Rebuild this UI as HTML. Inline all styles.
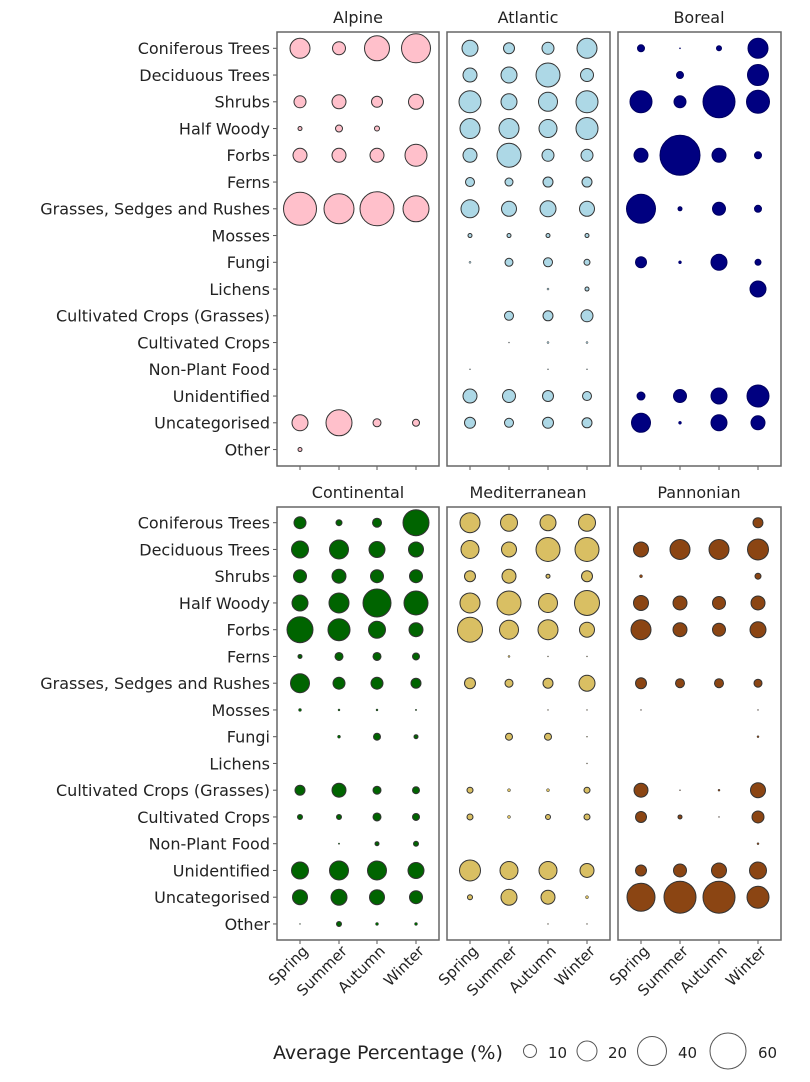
<!DOCTYPE html>
<html><head><meta charset="utf-8"><style>
body{margin:0;background:#fff;}
svg{display:block;font-family:"DejaVu Sans","Liberation Sans",sans-serif;}
</style></head><body>
<svg id="s" width="810" height="1082" viewBox="0 0 810 1082" xmlns="http://www.w3.org/2000/svg">
<rect width="810" height="1082" fill="#fff"/>
<g font-size="16" fill="#222" text-anchor="middle">
<text x="358" y="23">Alpine</text><text x="528" y="23">Atlantic</text><text x="699" y="23">Boreal</text>
<text x="358" y="498">Continental</text><text x="528" y="498">Mediterranean</text><text x="699" y="498">Pannonian</text>
</g>
<g font-size="16" fill="#222" text-anchor="end">
<text x="270" y="54">Coniferous Trees</text><text x="270" y="80.8">Deciduous Trees</text><text x="270" y="107.5">Shrubs</text><text x="270" y="134.3">Half Woody</text><text x="270" y="161">Forbs</text><text x="270" y="187.8">Ferns</text><text x="270" y="214.5">Grasses, Sedges and Rushes</text><text x="270" y="241.3">Mosses</text><text x="270" y="268">Fungi</text><text x="270" y="294.8">Lichens</text><text x="270" y="321.5">Cultivated Crops (Grasses)</text><text x="270" y="348.3">Cultivated Crops</text><text x="270" y="375">Non-Plant Food</text><text x="270" y="401.8">Unidentified</text><text x="270" y="428.5">Uncategorised</text><text x="270" y="455.3">Other</text>
<text x="270" y="528.5">Coniferous Trees</text><text x="270" y="555.3">Deciduous Trees</text><text x="270" y="582">Shrubs</text><text x="270" y="608.8">Half Woody</text><text x="270" y="635.5">Forbs</text><text x="270" y="662.3">Ferns</text><text x="270" y="689">Grasses, Sedges and Rushes</text><text x="270" y="715.8">Mosses</text><text x="270" y="742.5">Fungi</text><text x="270" y="769.3">Lichens</text><text x="270" y="796">Cultivated Crops (Grasses)</text><text x="270" y="822.8">Cultivated Crops</text><text x="270" y="849.5">Non-Plant Food</text><text x="270" y="876.3">Unidentified</text><text x="270" y="903">Uncategorised</text><text x="270" y="929.8">Other</text>
</g>
<g font-size="15" fill="#222" text-anchor="end">
<text transform="translate(309,952) rotate(-45)">Spring</text><text transform="translate(348,952) rotate(-45)">Summer</text><text transform="translate(386,952) rotate(-45)">Autumn</text><text transform="translate(425,952) rotate(-45)">Winter</text>
<text transform="translate(479,952) rotate(-45)">Spring</text><text transform="translate(518,952) rotate(-45)">Summer</text><text transform="translate(557,952) rotate(-45)">Autumn</text><text transform="translate(596,952) rotate(-45)">Winter</text>
<text transform="translate(650,952) rotate(-45)">Spring</text><text transform="translate(689,952) rotate(-45)">Summer</text><text transform="translate(728,952) rotate(-45)">Autumn</text><text transform="translate(767,952) rotate(-45)">Winter</text>
</g>
<g font-size="19" fill="#222">
<text x="273" y="1059">Average Percentage (%)</text>
<text x="548" y="1058" font-size="15">10</text><text x="608" y="1058" font-size="15">20</text><text x="678" y="1058" font-size="15">40</text><text x="758" y="1058" font-size="15">60</text>
</g>
<g fill="none" stroke="#555" stroke-width="1">
<circle cx="530" cy="1051" r="6.5"/><circle cx="587" cy="1051" r="10"/><circle cx="652" cy="1051" r="14.5"/><circle cx="728" cy="1051" r="18"/>
</g>
<g id="g"></g>
</svg>
<script>
var ns="http://www.w3.org/2000/svg",g=document.getElementById('g');
function el(t,a){var e=document.createElementNS(ns,t);for(var k in a)e.setAttribute(k,a[k]);g.appendChild(e);return e;}
var px=[[277,439],[447,610],[618,781]],py=[[32,466],[507,940]];
var cols=[[300,339,377,416],[470,509,548,587],[641,680,719,758]];
var data=[
[[10,6.5,12.5,14.5],[0,0,0,0],[6,7,5.5,7.5],[2,3.5,2.5,0],[7,7,7,11],[0,0,0,0],[16.5,15,17,13],[0,0,0,0],[0,0,0,0],[0,0,0,0],[0,0,0,0],[0,0,0,0],[0,0,0,0],[0,0,0,0],[8,13,4,3.5],[2,0,0,0]],
[[8,5.5,6,10],[7,8,12,6.5],[11,8,9.5,11],[10,10,9,11],[7,12,6,6],[4.5,4,5,5],[9,7.5,8,7.5],[2,2,2,2],[1,4,4.5,3],[0,0,1,2],[0,4.5,5,6],[0,.5,1,1],[.5,0,.5,.5],[7,6.5,5.5,4.5],[5.5,4.5,5.5,5],[0,0,0,0]],
[[3.5,.6,2.5,10],[0,3.5,0,10.5],[11,6,16,11.5],[0,0,0,0],[7,20,7,3.5],[0,0,0,0],[14.5,2,6.5,3.5],[0,0,0,0],[5.5,1.5,8,3],[0,0,0,8],[0,0,0,0],[0,0,0,0],[0,0,0,0],[4,6.5,8,11],[9.5,1.5,8,7],[0,0,0,0]],
[[6,3,4.5,13],[8.5,9.5,8,7.5],[6.5,7,6.5,6.5],[8,10,14,12],[13,11,8.5,7],[2,4,4,3.5],[9.5,6,6,5],[1.5,1,1,.7],[0,1.5,3.5,2],[0,0,0,0],[5,7,4,3.5],[2.5,2.5,4,3.5],[0,.7,2,2.5],[8.5,9.5,9.5,8],[7.5,8,7.5,6.5],[.5,2.5,1.5,1.5]],
[[10,8.5,8,8.5],[9,7.5,12,12],[5.5,7,2,5.5],[10,12,9.5,12.5],[12.5,9.5,10,7.5],[0,1,.5,.5],[5.5,4,5,8],[0,0,.5,.5],[0,3.5,3.5,.5],[0,0,0,.5],[3,1.5,1.5,3],[3,1.5,2.5,3],[0,0,0,0],[10.5,9,9,7],[2.5,8,7,1.5],[0,0,.5,.5]],
[[0,0,0,5],[7.5,10,10,10.5],[1.5,0,0,3],[7.5,7,6.5,7],[10,7,6.5,8],[0,0,0,0],[5.5,4.5,4.5,4],[.5,0,0,.5],[0,0,0,1],[0,0,0,0],[7,.5,1,7.5],[5.5,2,.5,6],[0,0,0,1],[5.5,6.5,7.5,8.5],[14,16,16,11],[0,0,0,0]]];
var fills=['#ffc0cb','#add8e6','#000080','#006400','#d9bf63','#8b4513'];
for(var p=0;p<6;p++){
 var c=p%3,r=Math.floor(p/3),x0=px[c][0],x1=px[c][1],y0=py[r][0],y1=py[r][1];
 var y00=r?522.7:48.3;
 for(var i=0;i<16;i++){var y=y00+i*26.75;
   if(c==0)el('line',{x1:x0-4,x2:x0,y1:y,y2:y,stroke:'#555','stroke-width':1});
   for(var j=0;j<4;j++){var rr=data[p][i][j];if(rr>0)el('circle',{cx:cols[c][j],cy:y,r:rr,fill:fills[p],stroke:p==2?'#000060':'#333','stroke-width':rr<2?0.5:1});}
 }
 for(var j=0;j<4;j++)el('line',{x1:cols[c][j],x2:cols[c][j],y1:y1,y2:y1+4,stroke:'#555','stroke-width':1});
 el('rect',{x:x0,y:y0,width:x1-x0,height:y1-y0,fill:'none',stroke:'#666','stroke-width':1.5});
}
</script>
</body></html>
